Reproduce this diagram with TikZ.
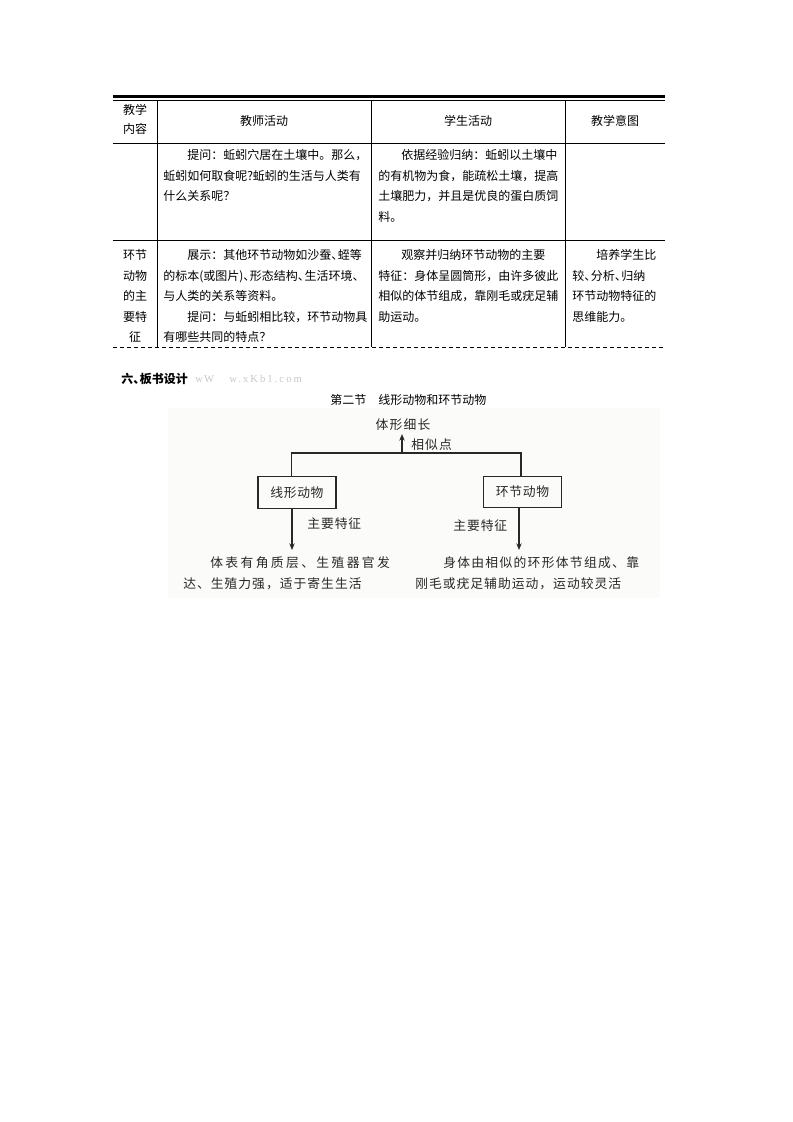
\documentclass[tikz,border=0pt]{standalone}
\usepackage{fontspec}
\newfontfamily\cjk{Noto Sans CJK SC}
\newfontfamily\lserif{Liberation Serif}
\usetikzlibrary{arrows.meta}
\definecolor{scanbg}{RGB}{251,251,249}
\definecolor{ink}{RGB}{40,40,40}
\definecolor{wmgray}{RGB}{200,200,200}
\newcommand\ls[1]{\addfontfeature{LetterSpace=#1}}
\newcommand\hdun{、\kern-0.45em}
\tikzset{
  tx/.style={inner sep=0pt, anchor=base west, font=\cjk\fontsize{9pt}{10pt}\selectfont},
  hd/.style={inner sep=0pt, anchor=base, font=\cjk\fontsize{9pt}{10pt}\selectfont},
  dtx/.style={inner sep=0pt, anchor=base west, text=ink, font=\cjk\fontsize{9.6pt}{11pt}\selectfont},
  dbox/.style={draw=ink, line width=0.9pt, minimum width=58.5pt, minimum height=23.5pt, inner sep=0pt, text=ink, font=\cjk\fontsize{9.6pt}{11pt}\selectfont},
  conn/.style={draw=ink, line width=0.9pt},
  arr/.style={conn, -{Stealth[length=5pt,width=4pt]}},
  rule/.style={line width=0.75pt},
  wmk/.style={inner sep=0pt, anchor=base west, text=wmgray, font=\lserif\fontsize{8pt}{10pt}\selectfont},
}
\begin{document}
\begin{tikzpicture}[x=0.75pt,y=-0.75pt]
\useasboundingbox (0,0) rectangle (793,1122);
\fill[white] (0,0) rectangle (793,1122);

% ---------- table rules ----------
\draw[line width=2.5pt] (113,96.7) -- (665,96.7);
\draw[rule] (113,100) -- (665,100);
\draw[rule] (113,143) -- (665,143);
\draw[rule] (113,240) -- (665,240);
\draw[rule, dash pattern=on 3pt off 2.25pt] (113,347) -- (665,347);
\foreach \xx in {157,371,565} \draw[rule] (\xx,100) -- (\xx,347);

% ---------- header ----------
\node[hd] (h1a) at (135,114.6) {教学};
\node[hd] (h1b) at (135,133.6) {内容};
\node[hd] (h2) at (264,125.6) {教师活动};
\node[hd] (h3) at (468,125.6) {学生活动};
\node[hd] (h4) at (615,125.6) {教学意图};

% ---------- row 2 ----------
\node[tx] (a1) at (187,159.6) {提问：蚯蚓穴居在土壤中。那么，};
\node[tx] (a2) at (163,180.1) {蚯蚓如何取食呢?蚯蚓的生活与人类有};
\node[tx] (a3) at (163,200.6) {什么关系呢？};
\node[tx] (b1) at (401,159.6) {依据经验归纳：蚯蚓以土壤中};
\node[tx] (b2) at (378,180.1) {的有机物为食，能疏松土壤，提高};
\node[tx] (b3) at (378,200.6) {土壤肥力，并且是优良的蛋白质饲};
\node[tx] (b4) at (378,221.1) {料。};

% ---------- row 3 ----------
\node[hd] (c1) at (135,259.6) {环节};
\node[hd] (c2) at (135,280.1) {动物};
\node[hd] (c3) at (135,300.6) {的主};
\node[hd] (c4) at (135,321.1) {要特};
\node[hd] (c5) at (135,341.6) {征};
\node[tx] (d1) at (187,259.6) {展示：其他环节动物如沙蚕\hdun 蛭等};
\node[tx] (d2) at (163,280.1) {的标本(或图片)\hdun 形态结构\hdun 生活环境\hdun};
\node[tx] (d3) at (163,300.6) {与人类的关系等资料。};
\node[tx] (d4) at (187,321.1) {提问：与蚯蚓相比较，环节动物具};
\node[tx] (d5) at (163,341.6) {有哪些共同的特点？};
\node[tx] (e1) at (401,259.6) {观察并归纳环节动物的主要};
\node[tx] (e2) at (378,280.1) {特征：身体呈圆筒形，由许多彼此};
\node[tx] (e3) at (378,300.6) {相似的体节组成，靠刚毛或疣足辅};
\node[tx] (e4) at (378,321.1) {助运动。};
\node[tx] (f1) at (596,259.6) {培养学生比};
\node[tx] (f2) at (572,280.1) {较\hdun 分析\hdun 归纳};
\node[tx] (f3) at (572,300.6) {环节动物特征的};
\node[tx] (f4) at (572,321.1) {思维能力。};

% ---------- section heading ----------
\node[tx, font=\cjk\bfseries\fontsize{9pt}{10pt}\selectfont] (sec) at (121,383.6) {六\hdun 板书设计};
\node[wmk] (wm1) at (195,382) {\ls{10}wW};
\node[wmk] (wm2) at (229,382) {\ls{19}w.xKb1.com};

% ---------- board diagram ----------
\fill[scanbg] (168,408) rectangle (660,598);
\node[tx] (title) at (330,404) {第二节　线形动物和环节动物};

\node[dbox] (xian) at (297,492.5) {\ls{5}线形动物};
\node[dbox] (huan) at (522.5,492) {\ls{5}环节动物};
\coordinate (jL) at (291.5,453);
\coordinate (jR) at (521,453);
\coordinate (jM) at (402,453);
\coordinate (tipU) at (402,434);
\coordinate (aL) at (292,550);
\coordinate (aR) at (519,550);

\node[dtx, anchor=base] (tixing) at (403,429.8) {\ls{9}体形细长};
\node[dtx] (xsd) at (411,449.8) {\ls{9}相似点};
\draw[conn] (xian.north -| jL) -- (jL) -- (jR) -- (huan.north -| jR);
\draw[arr] (jM) -- (tipU);
\draw[arr] (xian.south -| aL) -- (aL);
\draw[arr] (huan.south -| aR) -- (aR);

\node[dtx] (zyL) at (307,528.8) {\ls{7.4}主要特征};
\node[dtx] (zyR) at (453,530.8) {\ls{7.4}主要特征};
\node[dtx] (lt1) at (210,567.8) {\ls{18.5}体表有角质层、生殖器官发};
\node[dtx] (lt2) at (183,588.8) {\ls{7.8}达、生殖力强，适于寄生生活};
\node[dtx] (rt1) at (443,567.8) {\ls{10}身体由相似的环形体节组成、靠};
\node[dtx] (rt2) at (415,588.8) {\ls{7.8}刚毛或疣足辅助运动，运动较灵活};
\end{tikzpicture}
\end{document}
